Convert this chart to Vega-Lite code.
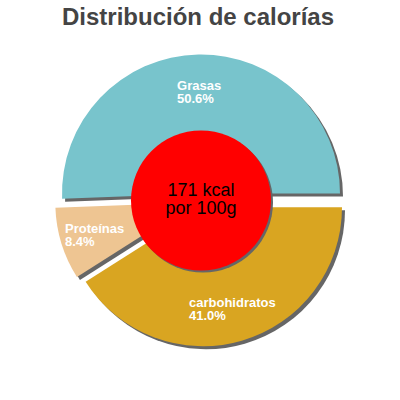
{
  "$schema": "https://vega.github.io/schema/vega-lite/v6.json",
  "padding": {"top": 6, "left": 0, "right": 0, "bottom": 0},
  "width": 402,
  "height": 337,
  "background": "white",
  "title": {
    "text": "Distribución de calorías",
    "font": "Liberation Sans",
    "fontSize": 24,
    "fontWeight": "bold",
    "color": "#444444",
    "anchor": "middle",
    "baseline": "top",
    "offset": 2,
    "dx": -3
  },
  "config": {"view": {"stroke": null}},
  "resolve": {"scale": {"theta": "independent"}},
  "layer": [
    {
      "data": {"name": "slices", "values": [
        {"name": "carbohidratos", "value": 41.0, "label": ["carbohidratos", "41.0%"]},
        {"name": "Proteínas", "value": 8.4, "label": ["Proteínas", "8.4%"]},
        {"name": "Grasas", "value": 50.6, "label": ["Grasas", "50.6%"]}
      ]},
      "encoding": {
        "theta": {"field": "value", "type": "quantitative", "stack": true, "scale": {"range": [1.5708, 7.854]}},
        "order": {"field": "name", "sort": "descending"},
        "detail": {"field": "name"}
      },
      "layer": [
        {
          "mark": {
            "type": "arc",
            "outerRadius": 139,
            "fill": "#666666",
            "xOffset": {"expr": "datum.name == 'Grasas' ? 3 : datum.name == 'Proteínas' ? -3.7 : 5"},
            "yOffset": {"expr": "datum.name == 'Grasas' ? -4 : datum.name == 'Proteínas' ? 5 : 9.7"}
          }
        },
        {
          "mark": {
            "type": "arc",
            "outerRadius": 139,
            "xOffset": {"expr": "datum.name == 'Grasas' ? 0 : datum.name == 'Proteínas' ? -6.7 : 2"},
            "yOffset": {"expr": "datum.name == 'Grasas' ? -7 : datum.name == 'Proteínas' ? 2 : 6.7"}
          },
          "encoding": {
            "color": {
              "field": "name",
              "type": "nominal",
              "legend": null,
              "scale": {"domain": ["Grasas", "carbohidratos", "Proteínas"], "range": ["#78C4CC", "#D9A521", "#EEC592"]}
            }
          }
        },
        {
          "mark": {
            "type": "text",
            "radius": 104,
            "font": "Liberation Sans",
            "fontSize": 13,
            "fontWeight": "bold",
            "fill": "white",
            "align": "left",
            "baseline": "middle",
            "lineHeight": 13,
            "dy": -4,
            "xOffset": {"expr": "datum.name == 'Grasas' ? 0 : datum.name == 'Proteínas' ? -6.7 : 2"},
            "yOffset": {"expr": "datum.name == 'Grasas' ? -7 : datum.name == 'Proteínas' ? 2 : 6.7"},
            "dx": {"expr": "datum.name == 'Grasas' ? -22 : datum.name == 'Proteínas' ? -30 : -43"}
          },
          "encoding": {
            "text": {"field": "label"}
          }
        }
      ]
    },
    {
      "data": {"name": "centre", "values": [
        {"total": 1, "text": ["171 kcal", "por 100g"]}
      ]},
      "encoding": {
        "theta": {"field": "total", "type": "quantitative", "stack": true}
      },
      "layer": [
        {"mark": {"type": "arc", "outerRadius": 70, "fill": "#666666", "xOffset": 2, "yOffset": 2}},
        {"mark": {"type": "arc", "outerRadius": 70, "fill": "#FF0000"}},
        {
          "mark": {
            "type": "text",
            "font": "Liberation Sans",
            "fontSize": 18,
            "fill": "black",
            "align": "center",
            "baseline": "middle",
            "lineHeight": 18.6,
            "dy": -10
          },
          "encoding": {
            "theta": null,
            "text": {"field": "text"}
          }
        }
      ]
    }
  ]
}
